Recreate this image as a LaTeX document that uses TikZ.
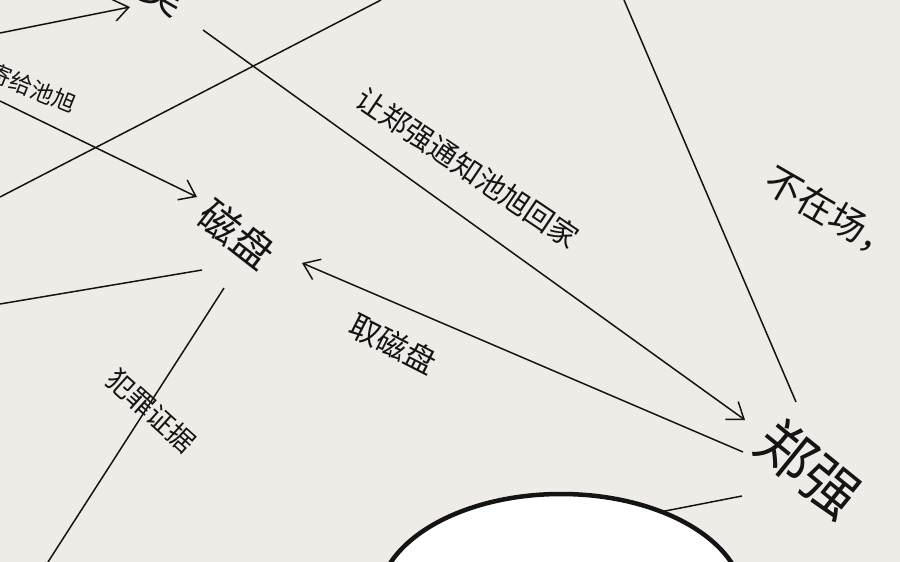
\documentclass[tikz,border=0pt]{standalone}
\usepackage{fontspec}
\newfontfamily\cjk{Noto Sans CJK SC}
\usetikzlibrary{arrows.meta}
\definecolor{paper}{RGB}{239,236,232}
\definecolor{ink}{RGB}{20,20,20}
\tikzset{
  link/.style={draw=ink, line width=1.5pt},
  arr/.style={link, -{Straight Barb[length=15pt,width=22pt,line width=1.5pt]}},
  lbl/.style={text=ink, inner sep=0pt},
  fs/.style={font=\cjk\fontsize{#1}{#1}\selectfont},
}
\begin{document}
\begin{tikzpicture}[x=1pt,y=-1pt]
\fill[paper] (0,0) rectangle (900,562);
\useasboundingbox (0,0) rectangle (900,562);

% endpoints of connectors
\coordinate (w1) at (0,33);
\coordinate (topIn) at (130,7);
\coordinate (topOut) at (203,30);
\coordinate (zqIn) at (745,420);
\coordinate (zqOut) at (743,452);
\coordinate (cpIn) at (302,263);
\coordinate (w2) at (0,101);
\coordinate (cpIn2) at (197,197);
\coordinate (w3) at (0,197);
\coordinate (n1) at (381,0);
\coordinate (cpL) at (202,270);
\coordinate (w4) at (0,304);
\coordinate (cpB) at (224,288);
\coordinate (s1) at (48,562);
\coordinate (n2) at (624,0);
\coordinate (zqTop) at (796,402);
\coordinate (zqB) at (742,496);
\coordinate (headPt) at (660,512);

% nodes
\node[lbl, fs=42, rotate=-30] (top) at (164,-6) {吴};
\node[lbl, fs=41, rotate=-38] (cipan) at (237,234) {磁盘};
\node[lbl, fs=57, rotate=-39] (zq) at (809,469) {郑强};
\node[lbl, fs=37, rotate=-30] (absent) at (832,214) {不在场，};
\node[lbl, fs=29, rotate=-34] (l1) at (468,168) {让郑强通知池旭回家};
\node[lbl, fs=31, rotate=-27] (l2) at (393,344) {取磁盘};
\node[lbl, fs=27, rotate=-42] (l3) at (151,411) {犯罪证据};
\node[lbl, fs=23, rotate=-22] (l4) at (32,88) {寄给池旭};

% head outline
\draw[draw=ink, line width=4.5pt, fill=white] (561,602) ellipse [x radius=183, y radius=108];

% connectors
\draw[arr] (w1) -- (topIn);
\draw[arr] (topOut) -- (zqIn);
\draw[arr] (zqOut) -- (cpIn);
\draw[arr] (w2) -- (cpIn2);
\draw[link] (w3) -- (n1);
\draw[link] (cpL) -- (w4);
\draw[link] (cpB) -- (s1);
\draw[link] (n2) -- (zqTop);
\draw[link] (zqB) -- (headPt);
\end{tikzpicture}
\end{document}
